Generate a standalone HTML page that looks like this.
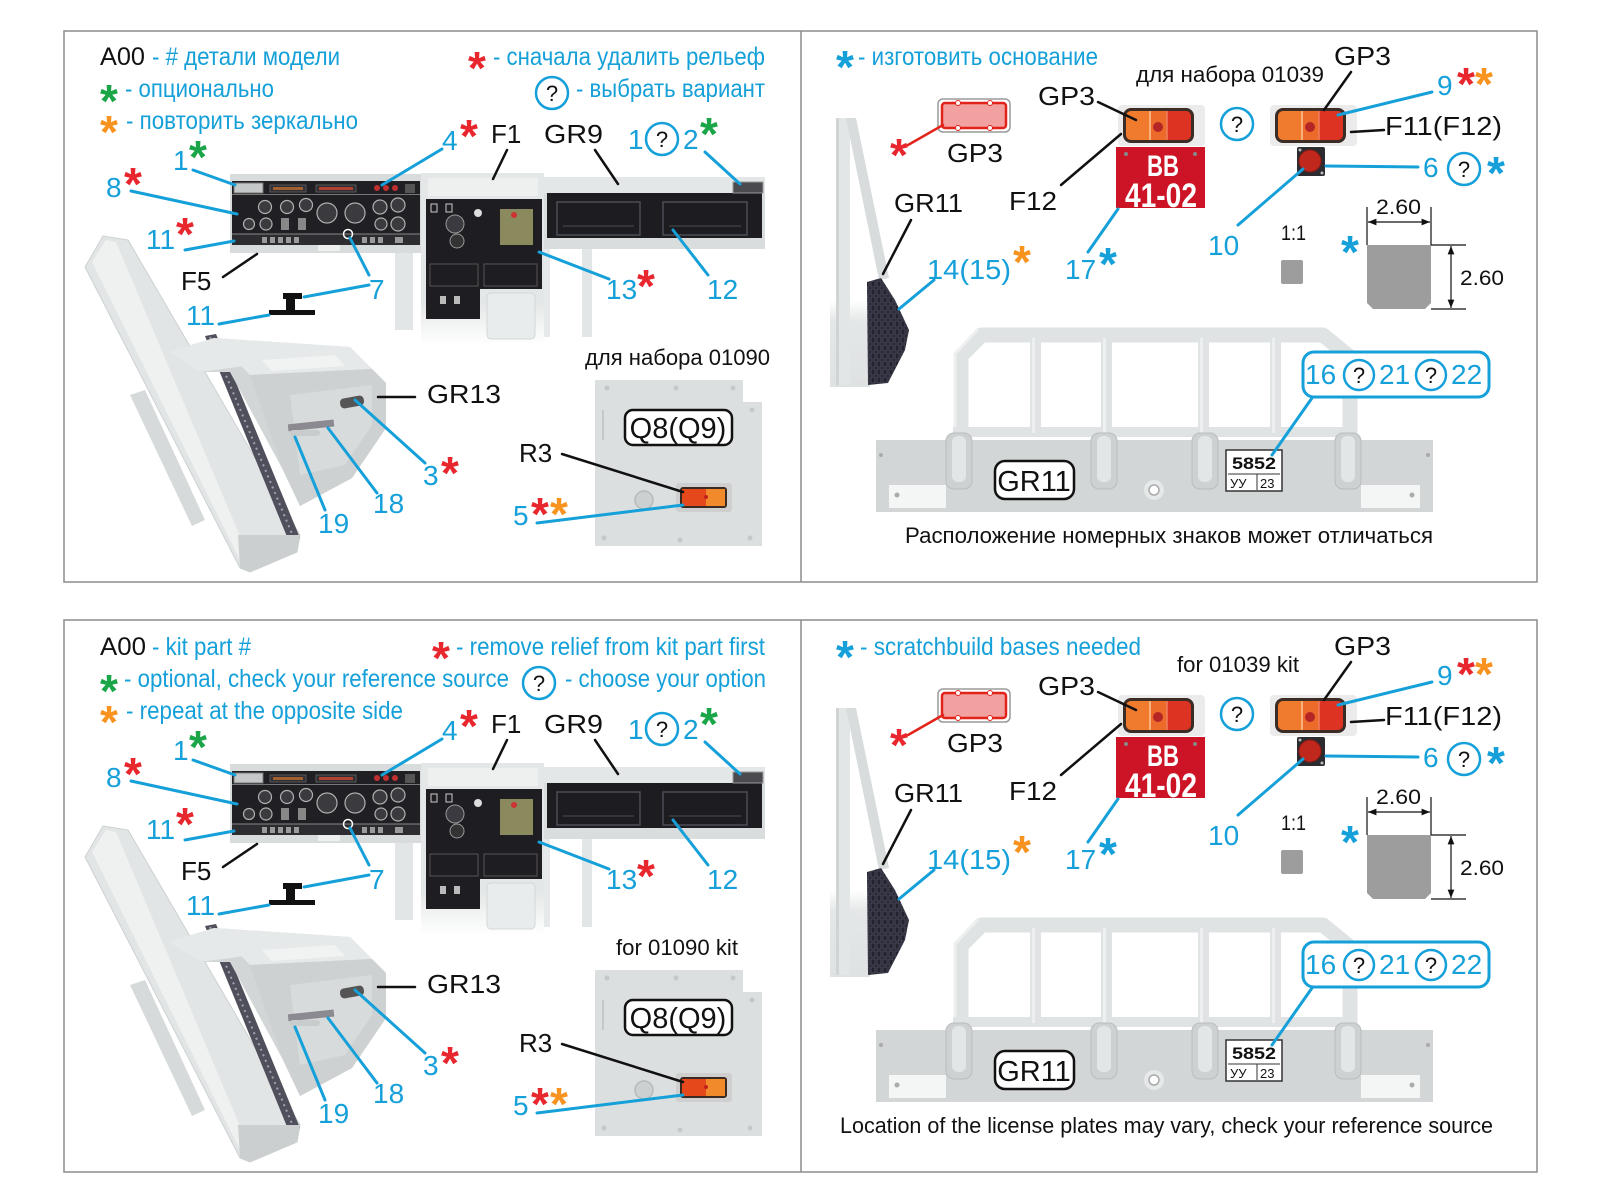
<!DOCTYPE html>
<html><head><meta charset="utf-8"><style>
html,body{margin:0;padding:0;background:#fff;}
svg{display:block;}
text{font-family:"Liberation Sans",Arial,sans-serif;}
.c{fill:#15a0d9}
.k{fill:#111}
.n{font-size:28px}
.lab{font-size:26px}
.leg{font-size:25px}
.st{font-size:46px;font-weight:bold;text-anchor:middle}
.r{fill:#e8262d}.g{fill:#1aa548}.o{fill:#f7931e}.cy{fill:#15a0d9}
.q{font-size:22px;text-anchor:middle;fill:#111}
.sm{font-size:22px;fill:#111}
</style></head><body>
<svg width="1600" height="1200" viewBox="0 0 1600 1200" xmlns="http://www.w3.org/2000/svg">
<defs>
<linearGradient id="fadeC" x1="0" y1="0" x2="0" y2="1">
<stop offset="0" stop-color="#e4e7e7"/><stop offset="0.75" stop-color="#e4e7e7"/><stop offset="1" stop-color="#ffffff"/>
</linearGradient>
<linearGradient id="fadeS" x1="0" y1="0" x2="0" y2="1">
<stop offset="0" stop-color="#ffffff"/><stop offset="0.25" stop-color="#e4e7e7"/><stop offset="1" stop-color="#dfe2e2"/>
</linearGradient>
<pattern id="grid" width="6" height="8" patternUnits="userSpaceOnUse">
<rect width="6" height="8" fill="#23232d"/>
<rect x="1" y="1" width="4" height="6" fill="none" stroke="#505064" stroke-width="0.8"/>
</pattern>
<marker id="ah" viewBox="0 0 10 10" refX="10" refY="5" markerWidth="7" markerHeight="7" orient="auto-start-reverse">
<path d="M0,1 L10,5 L0,9 z" fill="#111"/>
</marker>
<g id="lamp">
<rect x="-5" y="-3" width="87" height="41" rx="4" fill="#ebebeb"/>
<rect x="0" y="0" width="71" height="35" rx="8" fill="#3b2c26"/>
<rect x="3" y="3" width="33" height="29" rx="5" fill="#f07b2c"/>
<rect x="36" y="3" width="32" height="29" rx="5" fill="#dd3322"/>
<rect x="27" y="3" width="17" height="29" fill="#ec6a2a"/>
<line x1="27" y1="3" x2="27" y2="32" stroke="#f6b27a" stroke-width="2"/>
<line x1="44" y1="3" x2="44" y2="32" stroke="#f08060" stroke-width="1.5"/>
<circle cx="35" cy="19" r="5" fill="#b52525"/>
</g>
<g id="S">
<rect x="395" y="250" width="18" height="80" fill="#e3e6e6"/>
<rect x="582" y="247" width="10" height="90" fill="#e3e6e6"/>
<rect x="543" y="247" width="7" height="90" fill="#e6e9e9"/>
<rect x="230" y="174" width="191" height="79" fill="#d9dcdc"/>
<rect x="232" y="181" width="188" height="64" fill="#1f1f24"/>
<rect x="234" y="183" width="29" height="10" fill="#c5c8c8" stroke="#777" stroke-width="1"/>
<rect x="270" y="185" width="36" height="7" fill="#2e2e33" stroke="#666" stroke-width="0.8"/>
<rect x="273" y="187" width="30" height="3" fill="#a06030"/>
<rect x="316" y="185" width="40" height="7" fill="#2e2e33" stroke="#666" stroke-width="0.8"/>
<rect x="319" y="187" width="34" height="3" fill="#b04030"/>
<circle cx="377" cy="188" r="3" fill="#c03030"/>
<circle cx="386" cy="188" r="3" fill="#c03030"/>
<circle cx="395" cy="188" r="3" fill="#c03030"/>
<rect x="405" y="184" width="10" height="9" fill="#555"/>
<line x1="232" y1="194.5" x2="420" y2="194.5" stroke="#777" stroke-width="1"/>
<g fill="#3a3a3f" stroke="#b0b0b0" stroke-width="1.2">
<circle cx="265" cy="207" r="6.5"/><circle cx="287" cy="207" r="6.5"/><circle cx="306" cy="205" r="6.5"/>
<circle cx="249" cy="224" r="5.5"/><circle cx="266" cy="224" r="6"/>
<circle cx="327" cy="213" r="10"/><circle cx="355" cy="213" r="10"/>
<circle cx="380" cy="207" r="7"/><circle cx="398" cy="205" r="7"/><circle cx="381" cy="224" r="6"/><circle cx="398" cy="224" r="7"/>
</g>
<rect x="281" y="218" width="8" height="12" fill="#888"/>
<rect x="298" y="218" width="8" height="12" fill="#888"/>
<rect x="232" y="234" width="188" height="11" fill="#2c2c31"/>
<line x1="232" y1="234" x2="420" y2="234" stroke="#888" stroke-width="1"/>
<g fill="#9a9a9a">
<rect x="262" y="237" width="5" height="6"/><rect x="270" y="237" width="5" height="6"/><rect x="278" y="237" width="5" height="6"/><rect x="286" y="237" width="5" height="6"/><rect x="294" y="237" width="5" height="6"/>
<rect x="362" y="237" width="5" height="6"/><rect x="370" y="237" width="5" height="6"/><rect x="378" y="237" width="5" height="6"/><rect x="395" y="237" width="8" height="6"/>
</g>
<path d="M318 245 h22 v6 h-22z" fill="#eef0f0"/>
<circle cx="348" cy="234" r="4.5" fill="none" stroke="#fff" stroke-width="1.5"/>
<rect x="421" y="173" width="123" height="172" fill="url(#fadeC)"/>
<rect x="428" y="178" width="110" height="18" fill="#eef0f0"/>
<rect x="426" y="199" width="116" height="90" fill="#1d1d22"/>
<rect x="426" y="289" width="54" height="30" fill="#1d1d22"/>
<rect x="487" y="293" width="48" height="46" rx="4" fill="#e9ecec" stroke="#d3d7d7"/>
<rect x="500" y="209" width="33" height="36" fill="#8b8a5e"/>
<circle cx="514" cy="215" r="3" fill="#c33"/>
<circle cx="455" cy="224" r="9" fill="#3a3a40" stroke="#999"/>
<circle cx="457" cy="241" r="7" fill="#333" stroke="#999"/>
<circle cx="478" cy="213" r="4" fill="#ddd"/>
<rect x="431" y="204" width="6" height="8" fill="none" stroke="#ccc"/>
<rect x="446" y="204" width="6" height="8" fill="none" stroke="#ccc"/>
<rect x="430" y="264" width="48" height="22" fill="none" stroke="#555"/>
<rect x="484" y="264" width="53" height="22" fill="none" stroke="#555"/>
<rect x="440" y="296" width="6" height="8" fill="#bbb"/><rect x="454" y="296" width="6" height="8" fill="#bbb"/>
<rect x="544" y="177" width="221" height="72" fill="#dadddd"/>
<rect x="544" y="177" width="221" height="16" fill="#e4e7e7"/>
<rect x="547" y="193" width="215" height="45" fill="#1c1c21"/>
<rect x="557" y="202" width="83" height="33" fill="none" stroke="#4d4d55" stroke-width="1.5"/>
<rect x="663" y="202" width="84" height="33" fill="none" stroke="#4d4d55" stroke-width="1.5"/>
<line x1="563" y1="226" x2="634" y2="226" stroke="#4d4d55"/>
<line x1="669" y1="226" x2="741" y2="226" stroke="#4d4d55"/>
<rect x="733" y="182" width="30" height="11" fill="#4a4a4f" stroke="#999"/>
<polygon points="130,395 145,390 205,520 192,526" fill="#d6dada"/>
<polygon points="85,267 103,236 128,240 300,535 297,552 250,572 240,568" fill="#e2e5e5" stroke="#cdd1d1" stroke-width="1"/>
<polygon points="92,262 106,240 116,242 250,560 243,566" fill="#eff1f1"/>
<polygon points="205,336 216,334 300,538 290,544" fill="#50505c"/>
<line x1="210" y1="337" x2="295" y2="541" stroke="#a0a0b0" stroke-width="2" stroke-dasharray="2 4"/>
<polygon points="238,535 300,535 297,552 250,572 240,568" fill="#cbcfcf"/>
<polygon points="168,352 214,338 350,347 386,383 386,428 352,478 300,506 283,470 230,372 200,372" fill="#d2d6d6"/>
<polygon points="168,352 214,338 245,366 200,372" fill="#e6e9e9"/>
<polygon points="214,338 350,347 372,369 250,375" fill="#e6e9e9"/>
<polygon points="262,360 335,355 345,366 272,371" fill="#f1f3f3"/>
<polygon points="250,375 372,369 386,383 386,428 352,478 300,506 283,470" fill="#cdd1d1"/>
<polygon points="290,395 372,385 372,425 345,465 300,475" fill="#d8dbdb"/>
<rect x="340" y="397" width="24" height="10" rx="4" fill="#555" transform="rotate(-10 352 402)"/>
<rect x="288" y="422" width="46" height="7" fill="#8a8a90" transform="rotate(-6 310 425)"/>
<rect x="290" y="430" width="30" height="6" rx="3" fill="#c8cccc"/>
<rect x="269" y="310" width="46" height="5" fill="#111"/>
<rect x="286" y="297" width="9" height="13" fill="#111"/>
<rect x="283" y="293" width="19" height="6" fill="#111"/>
<polygon points="595,380 743,380 743,402 762,402 762,546 595,546" fill="#dcdfdf"/>
<g fill="#c4c8c8"><circle cx="607" cy="388" r="2.5"/><circle cx="676" cy="388" r="2.5"/><circle cx="733" cy="388" r="2.5"/><circle cx="752" cy="410" r="2.5"/><circle cx="604" cy="538" r="2.5"/><circle cx="680" cy="540" r="2.5"/><circle cx="750" cy="538" r="2.5"/></g>
<line x1="603" y1="410" x2="603" y2="440" stroke="#c4c8c8" stroke-width="2"/>
<rect x="625" y="410" width="107" height="35" rx="8" fill="#fff" stroke="#111" stroke-width="2.5"/>
<circle cx="644" cy="500" r="9" fill="#cdd0d0" stroke="#b6baba" stroke-width="1.5"/>
<rect x="676" y="483" width="56" height="29" rx="3" fill="#cfcfcf"/>
<rect x="680" y="487" width="47" height="21" rx="3" fill="#3a2a22"/>
<rect x="682" y="489" width="24" height="17" fill="#e5481a"/>
<rect x="706" y="489" width="19" height="17" fill="#f08a2a"/>
<circle cx="706" cy="497" r="2" fill="#c02020"/>
<rect x="938" y="99" width="72" height="33" rx="5" fill="#fff" stroke="#9a9a9a" stroke-width="1.5"/>
<rect x="942" y="103" width="64" height="25" rx="3" fill="#f2a0a0" stroke="#e2231a" stroke-width="2.5"/>
<g fill="#fff" stroke="#e2231a" stroke-width="1"><circle cx="958" cy="103" r="2.5"/><circle cx="990" cy="103" r="2.5"/><circle cx="958" cy="128" r="2.5"/><circle cx="990" cy="128" r="2.5"/></g>
<rect x="830" y="300" width="40" height="87" fill="url(#fadeS)"/>
<rect x="836" y="118" width="14" height="267" fill="#e3e6e6"/>
<rect x="836" y="118" width="3" height="267" fill="#d0d4d4"/>
<polygon points="846,118 856,118 889,278 879,280" fill="#d8dcdc"/>
<polygon points="867,282 881,278 895,300 909,330 905,350 888,383 868,385" fill="url(#grid)"/>
<use href="#lamp" x="1123" y="108"/>
<use href="#lamp" x="1275" y="108"/>
<rect x="1116" y="147" width="89" height="61" fill="#cc1426"/>
<circle cx="1126" cy="154" r="2" fill="#888"/><circle cx="1195" cy="154" r="2" fill="#888"/>
<rect x="1297" y="147" width="28" height="29" rx="2" fill="#2c2c30"/>
<circle cx="1310" cy="161" r="11" fill="#c0281e" stroke="#8a1a14" stroke-width="1"/>
<circle cx="1300" cy="150" r="1.5" fill="#bbb"/><circle cx="1322" cy="173" r="1.5" fill="#bbb"/>
<rect x="1281" y="260" width="22" height="24" rx="2" fill="#9d9d9d"/>
<path d="M1367,245 H1431 V303 L1425,309 H1373 L1367,303 Z" fill="#9d9d9d"/>
<g stroke="#111" stroke-width="1.2" fill="none">
<line x1="1367" y1="207" x2="1367" y2="245"/>
<line x1="1431" y1="207" x2="1431" y2="245"/>
<line x1="1431" y1="245" x2="1466" y2="245"/>
<line x1="1431" y1="309" x2="1466" y2="309"/>
<line x1="1368" y1="222" x2="1430" y2="222" marker-start="url(#ah)" marker-end="url(#ah)"/>
<line x1="1451" y1="246" x2="1451" y2="308" marker-start="url(#ah)" marker-end="url(#ah)"/>
</g>
<rect x="876" y="440" width="557" height="72" fill="#d3d6d6"/>
<path d="M961,440 V356 L982,335 H1323 L1350,357 V440" fill="none" stroke="#dfe3e3" stroke-width="15" stroke-linejoin="round"/>
<path d="M955,440 V354 L978,329" fill="none" stroke="#eef0f0" stroke-width="3"/>
<g fill="#dfe3e3">
<rect x="1030" y="335" width="11" height="100"/>
<rect x="1101" y="335" width="11" height="100"/>
<rect x="1198" y="335" width="11" height="100"/>
<rect x="1270" y="335" width="11" height="100"/>
<rect x="953" y="427" width="404" height="10"/>
</g>
<g fill="#eef0f0"><rect x="1032" y="338" width="3" height="95"/><rect x="1103" y="338" width="3" height="95"/><rect x="1200" y="338" width="3" height="95"/><rect x="1272" y="338" width="3" height="95"/></g>
<g fill="#cdd1d1" stroke="#b9bdbd" stroke-width="1">
<rect x="946" y="433" width="26" height="56" rx="8"/>
<rect x="1091" y="433" width="26" height="56" rx="8"/>
<rect x="1192" y="433" width="26" height="56" rx="8"/>
<rect x="1335" y="433" width="26" height="56" rx="8"/>
</g>
<g fill="#e3e6e6"><rect x="952" y="436" width="14" height="46" rx="6"/><rect x="1097" y="436" width="14" height="46" rx="6"/><rect x="1198" y="436" width="14" height="46" rx="6"/><rect x="1341" y="436" width="14" height="46" rx="6"/></g>
<rect x="889" y="485" width="57" height="23" fill="#f4f6f6"/>
<rect x="1361" y="485" width="59" height="23" fill="#f4f6f6"/>
<circle cx="897" cy="495" r="2.5" fill="#aaa"/><circle cx="1412" cy="495" r="2.5" fill="#aaa"/>
<circle cx="881" cy="455" r="2" fill="#aaa"/><circle cx="1428" cy="455" r="2" fill="#aaa"/>
<circle cx="1154" cy="490" r="10" fill="#e6e9e9"/>
<circle cx="1154" cy="490" r="5" fill="#fff" stroke="#aaa" stroke-width="1.5"/>
<rect x="995" y="461" width="79" height="38" rx="10" fill="#fff" stroke="#111" stroke-width="2.5"/>
<rect x="1226" y="450" width="56" height="41" fill="#fff" stroke="#333" stroke-width="1.5"/>
<line x1="1228" y1="474" x2="1280" y2="474" stroke="#333" stroke-width="1"/>
<line x1="1257" y1="474" x2="1257" y2="490" stroke="#333" stroke-width="1"/>
<rect x="1303" y="352" width="186" height="45" rx="11" fill="#fff" stroke="#15a0d9" stroke-width="3"/>
<g fill="none" stroke="#15a0d9" stroke-width="2.5">
<circle cx="662" cy="139" r="16"/>
<circle cx="1237" cy="124" r="16"/>
<circle cx="1464" cy="169" r="16"/>
<circle cx="1359" cy="375" r="15"/>
<circle cx="1431" cy="375" r="15"/>
</g>
<g stroke="#15a0d9" stroke-width="3" fill="none" stroke-linecap="round">
<line x1="193" y1="170" x2="235" y2="185"/>
<line x1="131" y1="191" x2="237" y2="214"/>
<line x1="185" y1="250" x2="234" y2="241"/>
<line x1="369" y1="275" x2="350" y2="238"/>
<line x1="304" y1="297" x2="369" y2="285"/>
<line x1="219" y1="324" x2="269" y2="315"/>
<line x1="442" y1="149" x2="382" y2="185"/>
<line x1="705" y1="152" x2="740" y2="184"/>
<line x1="539" y1="252" x2="609" y2="279"/>
<line x1="673" y1="230" x2="708" y2="275"/>
<line x1="425" y1="463" x2="355" y2="400"/>
<line x1="377" y1="493" x2="328" y2="428"/>
<line x1="325" y1="510" x2="295" y2="437"/>
<line x1="537" y1="523" x2="683" y2="505"/>
<line x1="1088" y1="252" x2="1118" y2="209"/>
<line x1="1432" y1="92" x2="1338" y2="115"/>
<line x1="1418" y1="167" x2="1326" y2="166"/>
<line x1="1238" y1="225" x2="1303" y2="169"/>
<line x1="934" y1="280" x2="899" y2="309"/>
<line x1="1312" y1="398" x2="1272" y2="455"/>
</g>
<g stroke="#111" stroke-width="2.5" fill="none" stroke-linecap="round">
<line x1="223" y1="277" x2="257" y2="254"/>
<line x1="507" y1="150" x2="493" y2="179"/>
<line x1="595" y1="150" x2="618" y2="184"/>
<line x1="378" y1="397" x2="415" y2="397"/>
<line x1="562" y1="454" x2="683" y2="492"/>
<line x1="1098" y1="102" x2="1136" y2="120"/>
<line x1="1061" y1="185" x2="1121" y2="134"/>
<line x1="1351" y1="72" x2="1324" y2="110"/>
<line x1="1351" y1="132" x2="1384" y2="130"/>
<line x1="911" y1="220" x2="883" y2="274"/>
</g>
<line x1="908" y1="145" x2="943" y2="125" stroke="#e2231a" stroke-width="2.5" stroke-linecap="round"/>
</g>
</defs>
<rect x="0" y="0" width="1600" height="1200" fill="#fff"/>
<g fill="none" stroke="#8c8c8c" stroke-width="1.5">
<rect x="64" y="31" width="1473" height="551"/>
<line x1="801" y1="31" x2="801" y2="582"/>
<rect x="64" y="620" width="1473" height="552"/>
<line x1="801" y1="620" x2="801" y2="1172"/>
</g>
<use href="#S"/>
<use href="#S" transform="translate(0,590)"/>

<text x="100" y="65" font-size="25" class="k" textLength="45" lengthAdjust="spacingAndGlyphs">A00</text>
<text x="152" y="65" class="c leg" textLength="188" lengthAdjust="spacingAndGlyphs"> - # детали модели</text>
<text x="477" y="84" class="st r">*</text>
<text x="493" y="65" class="c leg" textLength="272" lengthAdjust="spacingAndGlyphs">- сначала удалить рельеф</text>
<text x="109" y="117" class="st g">*</text>
<text x="125" y="97" class="c leg" textLength="149" lengthAdjust="spacingAndGlyphs">- опционально</text>
<circle cx="552" cy="93" r="16" fill="none" stroke="#15a0d9" stroke-width="2.5"/>
<text x="552" y="101" class="q">?</text>
<text x="576" y="97" class="c leg" textLength="189" lengthAdjust="spacingAndGlyphs">- выбрать вариант</text>
<text x="109" y="148" class="st o">*</text>
<text x="126" y="129" class="c leg" textLength="232" lengthAdjust="spacingAndGlyphs">- повторить зеркально</text>
<text x="845" y="83" class="st cy">*</text>
<text x="858" y="65" class="c leg" textLength="240" lengthAdjust="spacingAndGlyphs">- изготовить основание</text>
<text x="1136" y="82" class="sm" textLength="188" lengthAdjust="spacingAndGlyphs">для набора 01039</text>
<text x="585" y="365" class="sm" textLength="185" lengthAdjust="spacingAndGlyphs">для набора 01090</text>
<text x="905" y="543" font-size="22" class="k" textLength="528" lengthAdjust="spacingAndGlyphs">Расположение номерных знаков может отличаться</text>

<text x="100" y="655" font-size="25" class="k" textLength="46" lengthAdjust="spacingAndGlyphs">A00</text>
<text x="152" y="655" class="c leg" textLength="99" lengthAdjust="spacingAndGlyphs"> - kit part #</text>
<text x="441" y="674" class="st r">*</text>
<text x="456" y="655" class="c leg" textLength="309" lengthAdjust="spacingAndGlyphs">- remove relief from kit part first</text>
<text x="109" y="707" class="st g">*</text>
<text x="124" y="687" class="c leg" textLength="385" lengthAdjust="spacingAndGlyphs">- optional, check your reference source</text>
<circle cx="539" cy="683" r="16" fill="none" stroke="#15a0d9" stroke-width="2.5"/>
<text x="539" y="691" class="q">?</text>
<text x="565" y="687" class="c leg" textLength="201" lengthAdjust="spacingAndGlyphs">- choose your option</text>
<text x="109" y="738" class="st o">*</text>
<text x="126" y="719" class="c leg" textLength="277" lengthAdjust="spacingAndGlyphs">- repeat at the opposite side</text>
<text x="845" y="673" class="st cy">*</text>
<text x="860" y="655" class="c leg" textLength="281" lengthAdjust="spacingAndGlyphs">- scratchbuild bases needed</text>
<text x="1177" y="672" class="sm" textLength="122" lengthAdjust="spacingAndGlyphs">for 01039 kit</text>
<text x="616" y="955" class="sm" textLength="122" lengthAdjust="spacingAndGlyphs">for 01090 kit</text>
<text x="840" y="1133" font-size="22" class="k" textLength="653" lengthAdjust="spacingAndGlyphs">Location of the license plates may vary, check your reference source</text>

<g>
<g class="c n">
<text x="173" y="170">1</text>
<text x="106" y="197">8</text>
<text x="146" y="249">11</text>
<text x="369" y="299">7</text>
<text x="186" y="325">11</text>
<text x="442" y="150">4</text>
<text x="628" y="149">1</text>
<text x="683" y="149">2</text>
<text x="606" y="299">13</text>
<text x="707" y="299">12</text>
<text x="423" y="485">3</text>
<text x="373" y="513">18</text>
<text x="318" y="533">19</text>
<text x="513" y="525">5</text>
<text x="1437" y="95">9</text>
<text x="1423" y="177">6</text>
<text x="1208" y="255">10</text>
<text x="927" y="279" textLength="84" lengthAdjust="spacingAndGlyphs">14(15)</text>
<text x="1065" y="279">17</text>
<text x="1305" y="384">16</text>
<text x="1379" y="384">21</text>
<text x="1451" y="384">22</text>
</g>
<g class="k lab">
<text x="181" y="290">F5</text>
<text x="491" y="143">F1</text>
<text x="544" y="143" textLength="59" lengthAdjust="spacingAndGlyphs">GR9</text>
<text x="427" y="403" textLength="74" lengthAdjust="spacingAndGlyphs">GR13</text>
<text x="519" y="462">R3</text>
<text x="1334" y="65" textLength="57" lengthAdjust="spacingAndGlyphs">GP3</text>
<text x="1038" y="105" textLength="57" lengthAdjust="spacingAndGlyphs">GP3</text>
<text x="947" y="162" textLength="56" lengthAdjust="spacingAndGlyphs">GP3</text>
<text x="1385" y="135" textLength="117" lengthAdjust="spacingAndGlyphs">F11(F12)</text>
<text x="894" y="212" textLength="69" lengthAdjust="spacingAndGlyphs">GR11</text>
<text x="1009" y="210" textLength="48" lengthAdjust="spacingAndGlyphs">F12</text>
<text x="678" y="438" font-size="29" text-anchor="middle">Q8(Q9)</text>
<text x="1034" y="491" font-size="29" text-anchor="middle">GR11</text>
<text x="1281" y="240" font-size="21" textLength="25" lengthAdjust="spacingAndGlyphs">1:1</text>
<text x="1376" y="214" font-size="21" textLength="45" lengthAdjust="spacingAndGlyphs">2.60</text>
<text x="1460" y="285" font-size="21" textLength="44" lengthAdjust="spacingAndGlyphs">2.60</text>
</g>
<text x="1254" y="469" font-size="17" font-weight="bold" text-anchor="middle" class="k" textLength="44" lengthAdjust="spacingAndGlyphs">5852</text>
<text x="1230" y="488" font-size="13" class="k">УУ</text>
<text x="1260" y="488" font-size="13" class="k">23</text>
<text x="1163" y="176" font-size="30" font-weight="bold" fill="#fff" text-anchor="middle" textLength="32" lengthAdjust="spacingAndGlyphs">BB</text>
<text x="1125" y="207" font-size="34" font-weight="bold" fill="#fff" textLength="72" lengthAdjust="spacingAndGlyphs">41-02</text>
<g class="q">
<text x="662" y="147">?</text>
<text x="1237" y="132">?</text>
<text x="1464" y="177">?</text>
<text x="1359" y="383">?</text>
<text x="1431" y="383">?</text>
</g>
<text x="198" y="173" class="st g">*</text>
<text x="133" y="200" class="st r">*</text>
<text x="185" y="250" class="st r">*</text>
<text x="469" y="152" class="st r">*</text>
<text x="709" y="150" class="st g">*</text>
<text x="646" y="302" class="st r">*</text>
<text x="450" y="489" class="st r">*</text>
<text x="540" y="530" class="st r">*</text>
<text x="559" y="530" class="st o">*</text>
<text x="899" y="171" class="st r">*</text>
<text x="1466" y="100" class="st r">*</text>
<text x="1484" y="100" class="st o">*</text>
<text x="1496" y="189" class="st cy">*</text>
<text x="1108" y="280" class="st cy">*</text>
<text x="1022" y="278" class="st o">*</text>
<text x="1350" y="268" class="st cy">*</text>
</g>

<g transform="translate(0,590)">
<g class="c n">
<text x="173" y="170">1</text>
<text x="106" y="197">8</text>
<text x="146" y="249">11</text>
<text x="369" y="299">7</text>
<text x="186" y="325">11</text>
<text x="442" y="150">4</text>
<text x="628" y="149">1</text>
<text x="683" y="149">2</text>
<text x="606" y="299">13</text>
<text x="707" y="299">12</text>
<text x="423" y="485">3</text>
<text x="373" y="513">18</text>
<text x="318" y="533">19</text>
<text x="513" y="525">5</text>
<text x="1437" y="95">9</text>
<text x="1423" y="177">6</text>
<text x="1208" y="255">10</text>
<text x="927" y="279" textLength="84" lengthAdjust="spacingAndGlyphs">14(15)</text>
<text x="1065" y="279">17</text>
<text x="1305" y="384">16</text>
<text x="1379" y="384">21</text>
<text x="1451" y="384">22</text>
</g>
<g class="k lab">
<text x="181" y="290">F5</text>
<text x="491" y="143">F1</text>
<text x="544" y="143" textLength="59" lengthAdjust="spacingAndGlyphs">GR9</text>
<text x="427" y="403" textLength="74" lengthAdjust="spacingAndGlyphs">GR13</text>
<text x="519" y="462">R3</text>
<text x="1334" y="65" textLength="57" lengthAdjust="spacingAndGlyphs">GP3</text>
<text x="1038" y="105" textLength="57" lengthAdjust="spacingAndGlyphs">GP3</text>
<text x="947" y="162" textLength="56" lengthAdjust="spacingAndGlyphs">GP3</text>
<text x="1385" y="135" textLength="117" lengthAdjust="spacingAndGlyphs">F11(F12)</text>
<text x="894" y="212" textLength="69" lengthAdjust="spacingAndGlyphs">GR11</text>
<text x="1009" y="210" textLength="48" lengthAdjust="spacingAndGlyphs">F12</text>
<text x="678" y="438" font-size="29" text-anchor="middle">Q8(Q9)</text>
<text x="1034" y="491" font-size="29" text-anchor="middle">GR11</text>
<text x="1281" y="240" font-size="21" textLength="25" lengthAdjust="spacingAndGlyphs">1:1</text>
<text x="1376" y="214" font-size="21" textLength="45" lengthAdjust="spacingAndGlyphs">2.60</text>
<text x="1460" y="285" font-size="21" textLength="44" lengthAdjust="spacingAndGlyphs">2.60</text>
</g>
<text x="1254" y="469" font-size="17" font-weight="bold" text-anchor="middle" class="k" textLength="44" lengthAdjust="spacingAndGlyphs">5852</text>
<text x="1230" y="488" font-size="13" class="k">УУ</text>
<text x="1260" y="488" font-size="13" class="k">23</text>
<text x="1163" y="176" font-size="30" font-weight="bold" fill="#fff" text-anchor="middle" textLength="32" lengthAdjust="spacingAndGlyphs">BB</text>
<text x="1125" y="207" font-size="34" font-weight="bold" fill="#fff" textLength="72" lengthAdjust="spacingAndGlyphs">41-02</text>
<g class="q">
<text x="662" y="147">?</text>
<text x="1237" y="132">?</text>
<text x="1464" y="177">?</text>
<text x="1359" y="383">?</text>
<text x="1431" y="383">?</text>
</g>
<text x="198" y="173" class="st g">*</text>
<text x="133" y="200" class="st r">*</text>
<text x="185" y="250" class="st r">*</text>
<text x="469" y="152" class="st r">*</text>
<text x="709" y="150" class="st g">*</text>
<text x="646" y="302" class="st r">*</text>
<text x="450" y="489" class="st r">*</text>
<text x="540" y="530" class="st r">*</text>
<text x="559" y="530" class="st o">*</text>
<text x="899" y="171" class="st r">*</text>
<text x="1466" y="100" class="st r">*</text>
<text x="1484" y="100" class="st o">*</text>
<text x="1496" y="189" class="st cy">*</text>
<text x="1108" y="280" class="st cy">*</text>
<text x="1022" y="278" class="st o">*</text>
<text x="1350" y="268" class="st cy">*</text>
</g>
</svg>
</body></html>
